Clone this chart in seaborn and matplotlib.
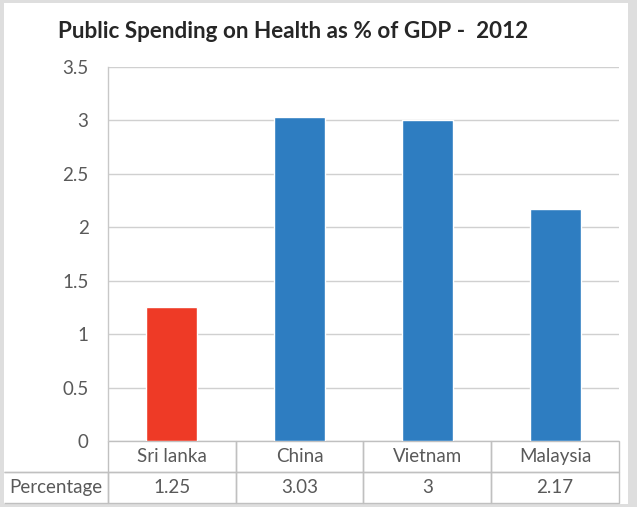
import matplotlib
matplotlib.use("Agg")
import matplotlib.pyplot as plt
import seaborn as sns
from matplotlib.patches import Rectangle

categories = ["Sri lanka", "China", "Vietnam", "Malaysia"]
values = [1.25, 3.03, 3, 2.17]
value_labels = ["1.25", "3.03", "3", "2.17"]
row_label = "Percentage"
title = "Public Spending on Health as % of GDP -  2012"
colors = ["#EE3A26", "#2E7DC1", "#2E7DC1", "#2E7DC1"]
yticks = [0, 0.5, 1, 1.5, 2, 2.5, 3, 3.5]
ytick_labels = ["0", "0.5", "1", "1.5", "2", "2.5", "3", "3.5"]

sns.set_theme(style="white")
plt.rcParams['font.family'] = ['Lato', 'DejaVu Sans']

W, H = 637, 507
fig = plt.figure(figsize=(W / 100, H / 100), dpi=100)
fig.patch.set_facecolor("#dedede")
fig.patches.append(Rectangle((4 / W, 3 / H), 624 / W, 501 / H, transform=fig.transFigure,
                             facecolor="white", edgecolor="none", zorder=-10))

ax = fig.add_axes([108 / W, (H - 441) / H, 511 / W, 374 / H])
ax.set_facecolor("none")
sns.barplot(x=categories, y=values, hue=categories, palette=colors, width=0.4,
            legend=False, ax=ax, saturation=1, zorder=3)
ax.set_xlim(-0.5, 3.5)
ax.set_ylim(0, 3.5)
ax.set_yticks(yticks)
ax.set_yticklabels(ytick_labels)
ax.set_xticks([])
ax.set_xlabel("")
ax.set_ylabel("")
ax.grid(axis="y", color="#d0d0d0", linewidth=1, zorder=0)
ax.set_axisbelow(True)
for s in ["top", "right", "bottom"]:
    ax.spines[s].set_visible(False)
ax.spines["left"].set_color("#c8c8c8")
ax.spines["left"].set_linewidth(1)
ax.tick_params(axis="y", length=0, pad=14, labelsize=13.5, labelcolor="#595959")

tab = ax.table(cellText=[[row_label] + value_labels],
               colLabels=[""] + categories,
               colWidths=[104] + [128] * 4,
               cellLoc="center",
               bbox=[(4 - 108) / 511, -62 / 374, 615 / 511, 62 / 374])
tab.auto_set_font_size(False)
for (r, c), cell in tab.get_celld().items():
    cell.set_edgecolor("#c0c0c0")
    cell.set_linewidth(1)
    cell.set_facecolor("none")
    cell.get_text().set_fontsize(13.5)
    cell.get_text().set_color("#595959")
    cell.get_text().set_fontfamily(['Lato', 'DejaVu Sans'])
    if c == 0:
        if r == 0:
            cell.visible_edges = "B"
        else:
            cell.visible_edges = "TBR"
            cell.PAD = 0.05
            cell.get_text().set_horizontalalignment("left")
            cell._loc = "left"

fig.text(58 / W, 1 - 31 / H, title, fontsize=16.2, fontweight="bold", color="#262626",
         ha="left", va="center")

fig.savefig("out.png", dpi=100)
